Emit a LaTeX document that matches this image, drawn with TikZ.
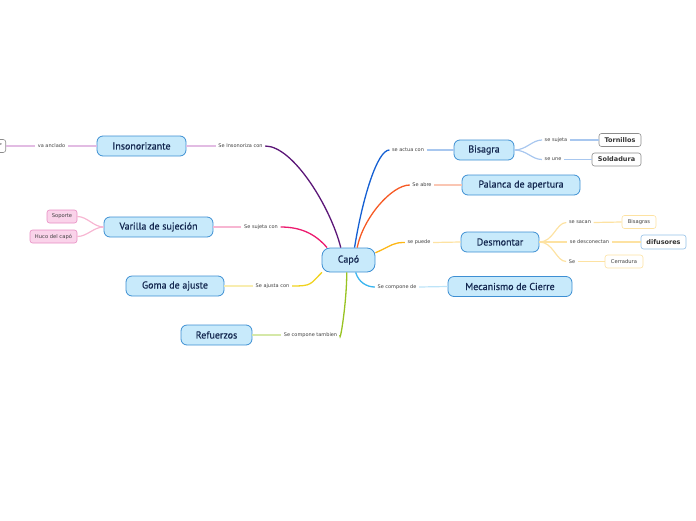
\documentclass[tikz,border=0pt]{standalone}
\usepackage{fontspec}
\setmainfont{PT Sans}
\newfontfamily\smallf{DejaVu Sans}
\newfontfamily\mainf[FakeBold=0.45]{PT Sans}
\definecolor{mainfill}{HTML}{C8EAFB}
\definecolor{mainborder}{HTML}{3D8FD3}
\definecolor{navy}{HTML}{142850}
\definecolor{cpurple}{HTML}{5B1677}
\definecolor{lpurple}{HTML}{E2BCE3}
\definecolor{cmag}{HTML}{EC1A6E}
\definecolor{lmag}{HTML}{F7B6D2}
\definecolor{cyel}{HTML}{F0D21E}
\definecolor{lyel}{HTML}{F8EDB0}
\definecolor{cgreen}{HTML}{98C322}
\definecolor{lgreen}{HTML}{D5E8A8}
\definecolor{cblue}{HTML}{1560D3}
\definecolor{lblue}{HTML}{A8C7EF}
\definecolor{corange}{HTML}{F65A25}
\definecolor{lorange}{HTML}{FAC6B3}
\definecolor{cgold}{HTML}{FDB614}
\definecolor{lgold}{HTML}{FDE2A2}
\definecolor{csky}{HTML}{3BB5EF}
\definecolor{lsky}{HTML}{BDE4F8}
\definecolor{pinkfill}{HTML}{FAD3EA}
\definecolor{pinkborder}{HTML}{E88EC3}
\tikzset{
  mainnode/.style={draw=mainborder, fill=mainfill, line width=0.8, rounded corners=6,
    minimum height=20, inner xsep=4, inner ysep=0, text=navy, font=\mainf\fontsize{10}{12}\selectfont},
  lbl/.style={inner xsep=2.5, inner ysep=1, text=black!75, font=\smallf\fontsize{5}{6}\selectfont},
  leafbold/.style={draw=black!45, fill=white, rounded corners=2.5, line width=0.6, minimum height=13,
    inner xsep=4, inner ysep=0, text=black!80, font=\smallf\bfseries\fontsize{6.5}{8}\selectfont},
  leaf/.style={rounded corners=2.5, line width=0.6, minimum height=13,
    inner xsep=4, inner ysep=0, text=black!75, font=\smallf\fontsize{5.2}{6}\selectfont},
  thick br/.style={line width=1.3},
  thin br/.style={line width=1.2}
}
\begin{document}
\begin{tikzpicture}[x=1pt,y=-1pt]
\useasboundingbox (0,0) rectangle (696,520);
% central
\node[mainnode, minimum width=53, minimum height=24, rounded corners=8] (capo) at (348.5,260) {Capó};
% left side
\node[mainnode, minimum width=89] (ins) at (141.5,146) {Insonorizante};
\node[lbl] (l1) at (240.5,146) {Se Insonoriza con};
\node[lbl] (l1b) at (51.5,146) {va anclado};
\node[leafbold, anchor=east] (motor) at (6,146) {r};

\node[mainnode, minimum width=109] (var) at (158.5,227) {Varilla de sujeción};
\node[lbl] (l2) at (261,227) {Se sujeta con};
\node[leaf, draw=pinkborder, fill=pinkfill, minimum width=30] (sop) at (62,216.5) {Soporte};
\node[leaf, draw=pinkborder, fill=pinkfill, minimum width=47] (huco) at (53.5,236.5) {Huco del capó};

\node[mainnode, minimum width=98] (goma) at (175,286) {Goma de ajuste};
\node[lbl] (l3) at (272.5,286) {Se ajusta con};

\node[mainnode, minimum width=71] (ref) at (216.5,335) {Refuerzos};
\node[lbl] (l4) at (310.5,335) {Se compone tambien};

% right side
\node[mainnode, minimum width=60] (bis) at (484,150) {Bisagra};
\node[lbl] (l5) at (408,150) {se actua con};
\node[lbl] (l5a) at (556,140) {se sujeta};
\node[lbl] (l5b) at (553,159.5) {se une};
\node[leafbold, minimum width=42] (torn) at (620,140) {Tornillos};
\node[leafbold, minimum width=49] (sold) at (616.5,159.5) {Soldadura};

\node[mainnode, minimum width=118] (pal) at (521,185) {Palanca de apertura};
\node[lbl] (l6) at (422,185) {Se abre};

\node[mainnode, minimum width=78] (des) at (500,242) {Desmontar};
\node[lbl] (l7) at (419,242.5) {se puede};
\node[lbl] (l7a) at (580,222.5) {se sacan};
\node[lbl] (l7b) at (589.5,242) {se desconectan};
\node[lbl] (l7c) at (572,261.5) {Se};
\node[leaf, draw=lgold, fill=white, minimum width=34] (bisg) at (639,222) {Bisagras};
\node[leafbold, draw=mainborder!55, minimum width=45, minimum height=14] (dif) at (663.5,242) {difusores};
\node[leaf, draw=lgold, fill=white, minimum width=38] (cerr) at (624,261.5) {Cerradura};

\node[mainnode, minimum width=124] (mec) at (510,286.5) {Mecanismo de Cierre};
\node[lbl] (l8) at (397,287) {Se compone de};

% thick branches
\draw[cpurple, thick br] (capo.122) .. controls +(-10,-40) and +(28,0) .. (l1.east);
\draw[cmag, thick br] (capo.150) .. controls +(-12,-14) and +(20,0) .. (l2.east);
\draw[cyel, thick br] (capo.205) .. controls +(-12,12) and +(20,0) .. (l3.east);
\draw[cgreen, thick br] (capo.262) .. controls +(0,30) and +(0,10) .. (l4.east);
\draw[cblue, thick br] (capo.64) .. controls +(8,-50) and +(-12,0) .. (l5.west);
\draw[corange, thick br] (capo.55) .. controls +(6,-30) and +(-18,0) .. (l6.west);
\draw[cgold, thick br] (capo.15) .. controls +(18,-8) and +(-12,0) .. (l7.west);
\draw[csky, thick br] (capo.300) .. controls +(3,10) and +(-8,0) .. (l8.west);

% thin branches
\draw[lpurple, thin br] (l1.west) -- (ins.east);
\draw[lpurple, thin br] (ins.west) -- (l1b.east);
\draw[lpurple, thin br] (l1b.west) -- (motor.east);
\draw[lmag, thin br] (l2.west) -- (var.east);
\draw[lmag, thin br] (var.west) .. controls +(-10,0) and +(10,0) .. (sop.east);
\draw[lmag, thin br] (var.west) .. controls +(-10,0) and +(10,0) .. (huco.east);
\draw[lyel, thin br] (l3.west) -- (goma.east);
\draw[lgreen, thin br] (l4.west) -- (ref.east);
\draw[lblue, thin br] (l5.east) -- (bis.west);
\draw[lblue, thin br] (bis.east) .. controls +(12,0) and +(-10,0) .. (l5a.west);
\draw[lblue, thin br] (bis.east) .. controls +(12,0) and +(-10,0) .. (l5b.west);
\draw[lblue, thin br] (l5a.east) -- (torn.west);
\draw[lblue, thin br] (l5b.east) -- (sold.west);
\draw[lorange, thin br] (l6.east) -- (pal.west);
\draw[lgold, thin br] (l7.east) -- (des.west);
\draw[lgold, thin br] (des.east) .. controls +(14,0) and +(-10,0) .. (l7a.west);
\draw[lgold, thin br] (des.east) -- (l7b.west);
\draw[lgold, thin br] (des.east) .. controls +(14,0) and +(-10,0) .. (l7c.west);
\draw[lgold, thin br] (l7a.east) -- (bisg.west);
\draw[lgold, thin br] (l7b.east) -- (dif.west);
\draw[lgold, thin br] (l7c.east) -- (cerr.west);
\draw[lsky, thin br] (l8.east) -- (mec.west);
\end{tikzpicture}
\end{document}
